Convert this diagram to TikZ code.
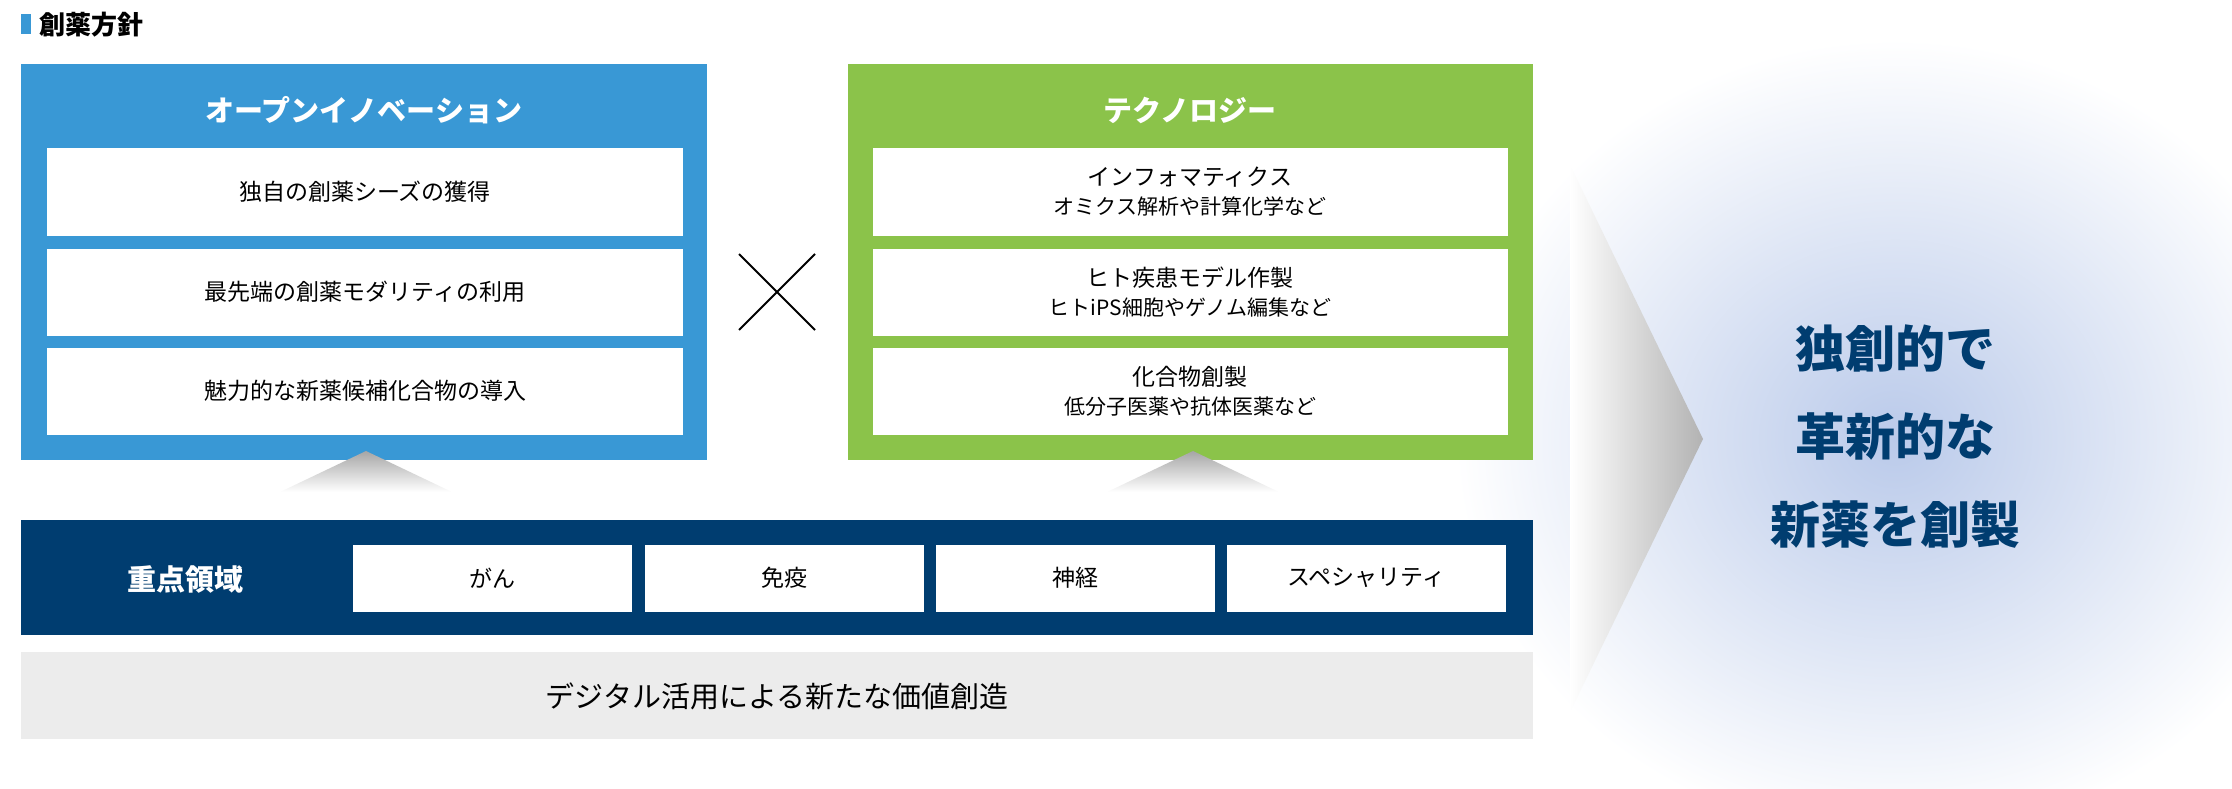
\documentclass[tikz,border=0pt]{standalone}
\usepackage{fontspec}
\setmainfont{Noto Sans CJK JP}
\usetikzlibrary
  {
    positioning, % place nodes relative to other nodes
    calc,
  }
\definecolor{openblue}{RGB}{57,152,213}
\definecolor{techgreen}{RGB}{139,195,74}
\definecolor{navy}{RGB}{0,61,112}
\definecolor{barGray}{RGB}{236,236,236}
\definecolor{glow}{RGB}{186,202,234}

\begin{document}
\begin{tikzpicture}
    [
      x=1pt, y=-1pt,
      itembox/.style=
        {
          rectangle,
          fill=white,
          minimum width=636pt,
          minimum height=87pt,
          font=\fontsize{23}{29}\selectfont,
          align=center,
          inner sep=0pt,
        },
      fieldbox/.style=
        {
          rectangle,
          fill=white,
          minimum width=279pt,
          minimum height=67pt,
          font=\fontsize{23}{26}\selectfont,
          inner sep=0pt,
        },
      headtext/.style=
        {
          text=white,
          font=\fontsize{29}{32}\selectfont\bfseries,
        },
    ]
    \useasboundingbox (0,0) rectangle (2232,789);
    % background glow
    \shade[inner color=glow, outer color=white] (1895,439) ellipse (440 and 400);
    % title
    \fill[openblue] (21,14) rectangle (31,34);
    \node[anchor=west, font=\fontsize{26}{28}\selectfont\bfseries] (title) at (36,25) {創薬方針};
    % open innovation
    \fill[openblue] (21,64) rectangle (707,460);
    \node[headtext] (open) at (364,110) {オープンイノベーション};
    \node[itembox] (open 1) at (365,192) {独自の創薬シーズの獲得};
    \node[itembox] (open 2) at (365,292) {最先端の創薬モダリティの利用};
    \node[itembox] (open 3) at (365,391) {魅力的な新薬候補化合物の導入};
    % cross
    \coordinate (cross) at (777,292);
    \draw[line width=2pt] ($(cross)+(-38,-38)$) -- ($(cross)+(38,38)$)
                          ($(cross)+(-38,38)$) -- ($(cross)+(38,-38)$);
    % technology
    \fill[techgreen] (848,64) rectangle (1533,460);
    \node[headtext] (tech) at (1190,110) {テクノロジー};
    \node[itembox, minimum width=635pt] (tech 1) at (1190,192)
      {インフォマティクス\\{\fontsize{21}{27}\selectfont オミクス解析や計算化学など}};
    \node[itembox, minimum width=635pt] (tech 2) at (1190,292)
      {ヒト疾患モデル作製\\{\fontsize{21}{27}\selectfont ヒトiPS細胞やゲノム編集など}};
    \node[itembox, minimum width=635pt] (tech 3) at (1190,391)
      {化合物創製\\{\fontsize{21}{27}\selectfont 低分子医薬や抗体医薬など}};
    % pointers
    \shade[top color=black!35, bottom color=white] (366,451) -- (452,492) -- (280,492) -- cycle;
    \shade[top color=black!35, bottom color=white] (1193,451) -- (1279,492) -- (1107,492) -- cycle;
    % focus areas
    \fill[navy] (21,520) rectangle (1533,635);
    \node[headtext] (focus) at (185,579) {重点領域};
    \node[fieldbox] (field 1) at (492,578) {がん};
    \node[fieldbox] (field 2) at (784,578) {免疫};
    \node[fieldbox] (field 3) at (1075,578) {神経};
    \node[fieldbox] (field 4) at (1366,578) {スペシャリティ};
    % digital
    \fill[barGray] (21,652) rectangle (1533,739);
    \node[font=\fontsize{29}{32}\selectfont] (digital) at (777,696) {デジタル活用による新たな価値創造};
    % big arrow
    \shade[left color=white, right color=black!30] (1570,165) -- (1703,439) -- (1570,712) -- cycle;
    \node[text=navy, align=center, font=\fontsize{50}{88}\selectfont\bfseries] (goal) at (1895,437)
      {独創的で\\革新的な\\新薬を創製};
\end{tikzpicture}
\end{document}
